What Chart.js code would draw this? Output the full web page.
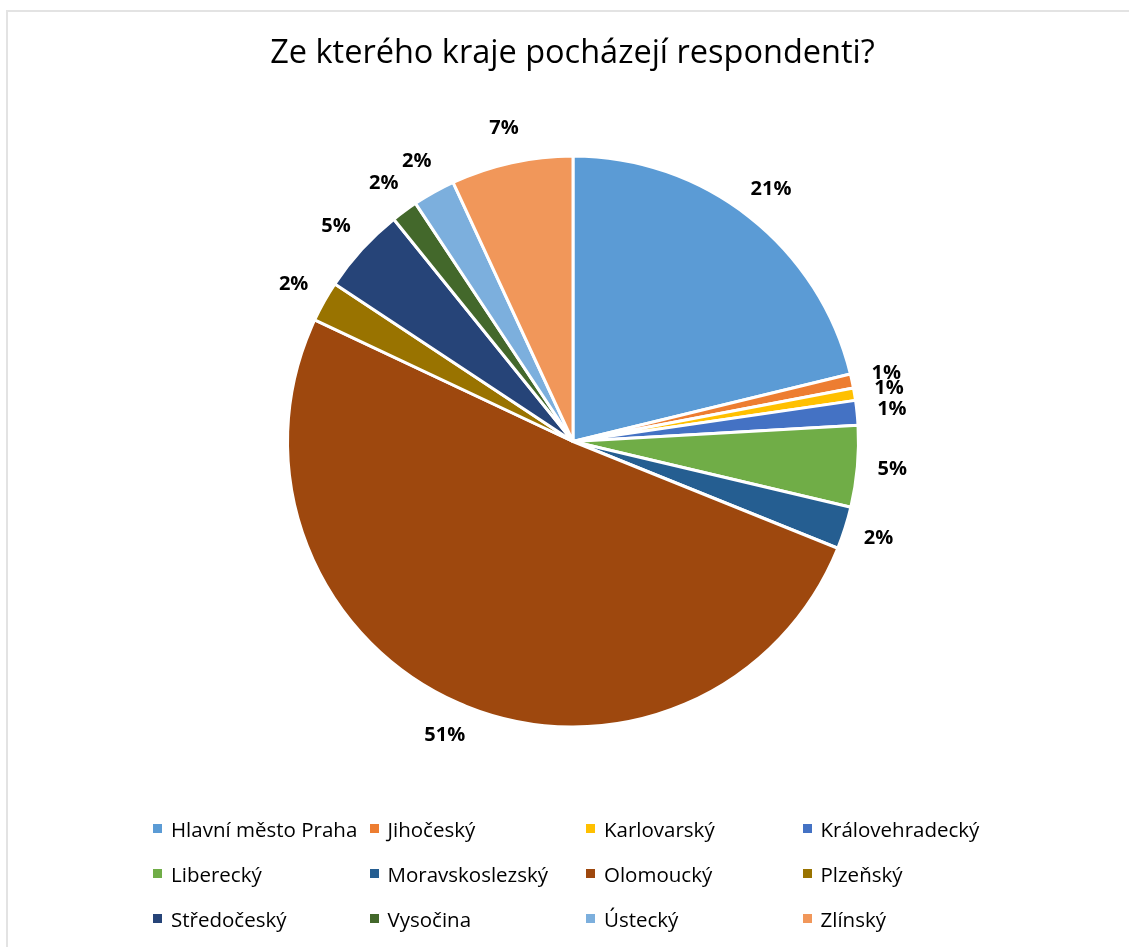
<!DOCTYPE html>
<html>
<head>
<meta charset="utf-8">
<script src="https://cdn.jsdelivr.net/npm/chart.js@4.4.1/dist/chart.umd.min.js"></script>
<style>
    html, body { margin: 0; padding: 0; background: #fff; }
    body { width: 1129px; height: 947px; position: relative; overflow: hidden; font-family: 'Open Sans', sans-serif; }
    .frame { position: absolute; left: 6px; top: 10px; right: -10px; bottom: -10px; border-left: 2px solid #e3e3e3; border-top: 2px solid #e3e3e3; }
    #chart { position: absolute; left: 0; top: 0; }
    .title { position: absolute; left: 0; width: 1145px; top: 28px; text-align: center; font-size: 32.5px; color: #000; }
    .legend { position: absolute; left: 153px; top: 806px; display: grid; grid-template-columns: repeat(4, 216.5px); grid-auto-rows: 45px; }
    .legend-item { display: flex; align-items: center; font-size: 20.5px; color: #000; white-space: nowrap; }
    .legend-item i { display: inline-block; width: 9px; height: 9px; margin-right: 9px; }
</style>
</head>
<body>
<div class="frame"></div>
<canvas id="chart" width="1129" height="947"></canvas>
<div class="title">Ze kterého kraje pocházejí respondenti?</div>
<div class="legend" id="legend"></div>
<script>
const regions = ['Hlavní město Praha', 'Jihočeský', 'Karlovarský', 'Královehradecký', 'Liberecký', 'Moravskoslezský',
    'Olomoucký', 'Plzeňský', 'Středočeský', 'Vysočina', 'Ústecký', 'Zlínský'];
const shares = [21.2, 0.8, 0.7, 1.4, 4.6, 2.4, 50.9, 2.3, 4.9, 1.5, 2.4, 6.9];
const colors = ['#5B9BD5', '#ED7D31', '#FFC000', '#4472C4', '#70AD47', '#255E91',
    '#9E480E', '#997300', '#264478', '#43682B', '#7CAFDD', '#F1975A'];

// percent labels outside the slices
const outsideLabels = {
    id: 'outsideLabels',
    afterDatasetsDraw(chart) {
        const ctx = chart.ctx;
        const meta = chart.getDatasetMeta(0);
        ctx.save();
        ctx.font = "bold 20px 'Open Sans', sans-serif";
        ctx.fillStyle = '#000';
        ctx.textAlign = 'center';
        ctx.textBaseline = 'middle';
        meta.data.forEach((arc, i) => {
            const mid = (arc.startAngle + arc.endAngle) / 2;
            const r = arc.outerRadius + 35;
            const x = arc.x + Math.cos(mid) * r;
            const y = arc.y + Math.sin(mid) * r;
            ctx.fillText(Math.round(shares[i]) + '%', x, y);
        });
        ctx.restore();
    }
};

new Chart(document.getElementById('chart'), {
    type: 'pie',
    data: {
        labels: regions,
        datasets: [{
            data: shares,
            backgroundColor: colors,
            borderColor: '#fff',
            borderWidth: 3
        }]
    },
    options: {
        responsive: false,
        animation: false,
        layout: { padding: { left: 286, right: 269, top: 154, bottom: 218 } },
        plugins: {
            legend: { display: false },
            tooltip: { enabled: false }
        }
    },
    plugins: [outsideLabels]
});

document.getElementById('legend').innerHTML = regions.map((r, i) => `
    <div class="legend-item"><i style="background:${colors[i]}"></i>${r}</div>
`).join('');
</script>
</body>
</html>
